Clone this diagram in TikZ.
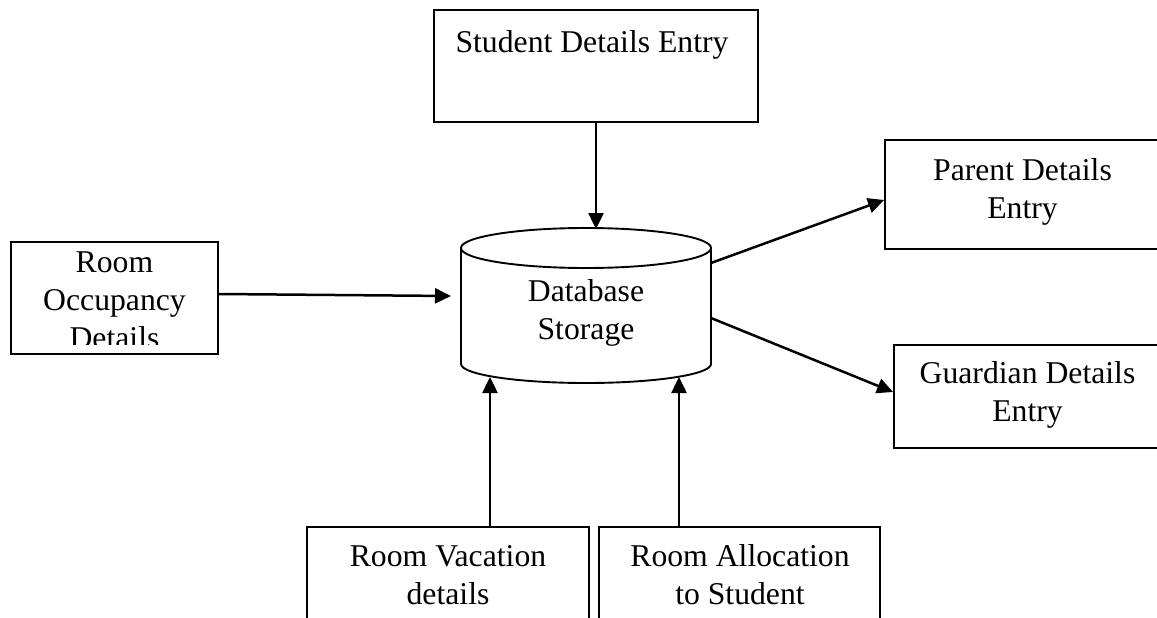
\documentclass[tikz,border=0pt]{standalone}
\usepackage{fontspec}
\setmainfont{Liberation Serif}
\usetikzlibrary{arrows.meta}
\begin{document}
\begin{tikzpicture}[x=1pt,y=-1pt,
  box/.style={draw, line width=1.9pt, inner sep=0pt},
  lbl/.style={align=center, inner sep=0pt, font=\fontsize{31.7}{38}\selectfont},
  flow/.style={line width=2.5pt, -{Triangle[length=16pt,width=15pt]}}]
\useasboundingbox (0,0) rectangle (1157,618);
\clip (0,0) rectangle (1157,618);

% process boxes
\node[box, minimum width=324pt, minimum height=112pt] (stu) at (596,66) {};
\node[lbl, anchor=base] (stuT) at (592,53) {Student Details Entry};

\node[box, minimum width=207pt, minimum height=112pt] (occ) at (114.5,298) {};
\begin{scope}
  \clip (11,242) rectangle (218,344);
  \node[lbl] (occT) at (114.5,300.5) {Room\\Occupancy\\Details};
\end{scope}

\node[box, minimum width=275pt, minimum height=109pt] (par) at (1022.5,194.5) {};
\node[lbl] (parT) at (1022.5,191.6) {Parent Details\\Entry};

\node[box, minimum width=267pt, minimum height=103pt] (gua) at (1027.5,396.5) {};
\node[lbl] (guaT) at (1027.5,395) {Guardian Details\\Entry};

\node[box, minimum width=282pt, minimum height=104pt] (vac) at (448,579) {};
\node[lbl] (vacT) at (448,575) {Room Vacation\\details};

\node[box, minimum width=281pt, minimum height=104pt] (alloc) at (739.5,579) {};
\node[lbl] (allocT) at (740,575) {Room Allocation\\to Student};

% database cylinder
\draw[line width=1.9pt] (461,248) -- (461,364)
  arc[start angle=180, end angle=0, x radius=125, y radius=19] -- (711,248);
\draw[line width=1.9pt] (586,248) ellipse [x radius=125, y radius=20];
\node[lbl] (db) at (586,313) {Database\\Storage};

% connection points on the cylinder
\coordinate (dbN) at (596,229);
\coordinate (dbW) at (451,296);
\coordinate (dbE1) at (711,263);
\coordinate (dbE2) at (711,318);
\coordinate (dbS1) at (490,377);
\coordinate (dbS2) at (679,377);

% data flows
\draw[flow] (stu.south) -- (dbN);
\draw[flow] ([yshift=4pt]occ.east) -- (dbW);
\draw[flow] (dbE1) -- ([yshift=-5.5pt]par.west);
\draw[flow] (dbE2) -- ([yshift=4.5pt]gua.west);
\draw[flow] (vac.north -| dbS1) -- (dbS1);
\draw[flow] (alloc.north -| dbS2) -- (dbS2);
\end{tikzpicture}
\end{document}
